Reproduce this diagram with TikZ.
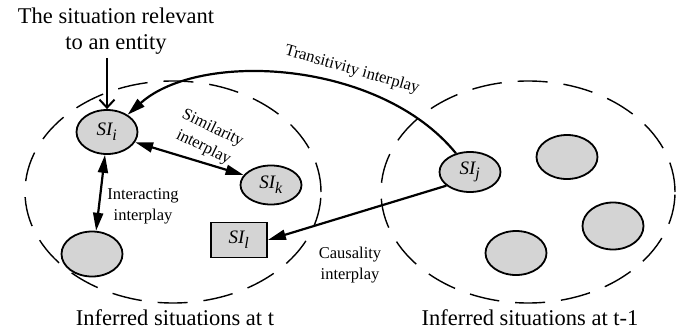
\documentclass[tikz,border=0pt]{standalone}
\usepackage{fontspec}
\setmainfont{Liberation Serif}
\usetikzlibrary{shapes.geometric,arrows.meta}
\definecolor{sitfill}{RGB}{212,212,212}
\tikzset{
  region/.style={draw, line width=1.4pt, dash pattern=on 30pt off 16pt, ellipse, inner sep=0pt},
  sit/.style={draw, line width=1.8pt, fill=sitfill, ellipse, inner sep=0pt,
    minimum width=61pt, minimum height=44pt, font=\fontsize{19}{21}\selectfont\itshape},
  sitbox/.style={draw, line width=1.8pt, fill=sitfill, rectangle, inner sep=0pt,
    minimum width=56pt, minimum height=35pt, font=\fontsize{19}{21}\selectfont\itshape},
  biglabel/.style={font=\fontsize{22.5}{26}\selectfont, align=center, inner sep=0pt},
  smalllabel/.style={font=\fontsize{16.5}{21}\selectfont, align=center, inner sep=0pt},
  link/.style={line width=2.2pt, -{Triangle[length=18pt,width=10pt]}},
  twoway/.style={line width=2.2pt, {Triangle[length=18pt,width=10pt]}-{Triangle[length=18pt,width=10pt]}},
  feed/.style={line width=2pt, -{Straight Barb[length=8pt,width=15pt,line width=2pt]}}
}
\newcommand{\sitname}[1]{SI\textsubscript{\fontsize{16}{16}\selectfont #1}}
\begin{document}
\begin{tikzpicture}[x=1pt,y=-1pt]
  \useasboundingbox (0,0) rectangle (676,334);

  % time slices
  \node[region, minimum width=296pt, minimum height=222pt] (now) at (173,192) {};
  \node[region, minimum width=294pt, minimum height=222pt] (prev) at (528,192) {};

  % situations at t
  \node[sit] (si) at (107,132) {\sitname{i}};
  \node[sit, minimum height=39pt] (sk) at (271,185) {\sitname{k}};
  \node[sit, minimum height=45pt] (sa) at (92,254) {};
  \node[sitbox] (sl) at (239,240) {\sitname{l}};

  % situations at t-1
  \node[sit, minimum height=40pt] (sj) at (470,172) {\sitname{j}};
  \node[sit] (sb) at (567,157) {};
  \node[sit, minimum height=47pt] (sc) at (613,226) {};
  \node[sit] (sd) at (516,253) {};

  % text labels
  \node[biglabel] (ctx) at (116,31) {The situation relevant\\to an entity};
  \node[biglabel] (capnow) at (175,318) {Inferred situations at t};
  \node[biglabel] (capprev) at (530,318) {Inferred situations at t-1};
  \node[smalllabel, rotate=-26] (lsim) at (208,138) {Similarity\\interplay};
  \node[smalllabel] (lint) at (143,206) {Interacting\\interplay};
  \node[smalllabel] (lcau) at (350,265) {Causality\\interplay};
  \node[smalllabel, rotate=-16] (ltra) at (352,70) {Transitivity interplay};

  % connectors
  \draw[feed] (107,58) -- (si.north);
  \draw[link] (sj.127) .. controls (380,60) and (200,50) .. (si.40);
  \draw[twoway] (si.-20) -- (sk.160);
  \draw[twoway] (si.-95) -- (sa.80);
  \draw[link] (sj.-150) -- (sl.east);
\end{tikzpicture}
\end{document}
